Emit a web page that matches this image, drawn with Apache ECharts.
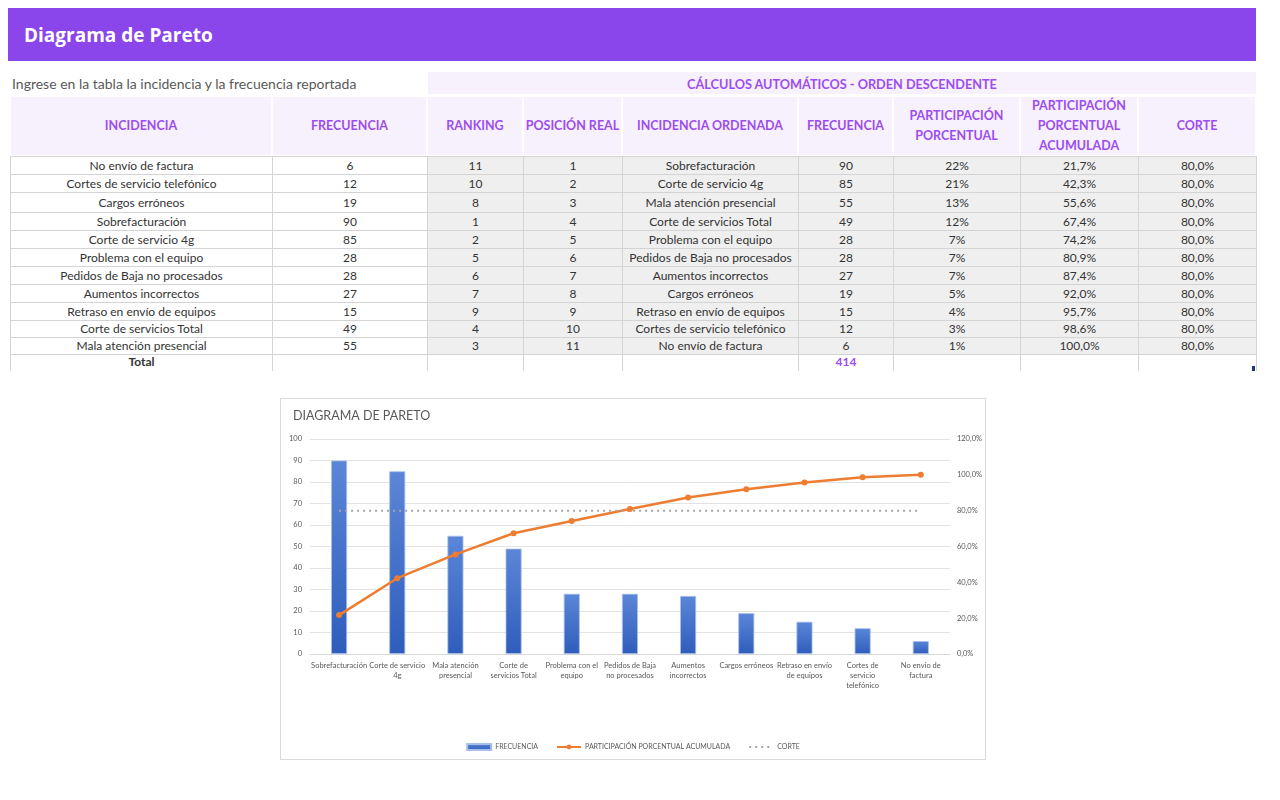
<!DOCTYPE html>
<html>
<head>
<meta charset="utf-8">
<script src="https://cdn.jsdelivr.net/npm/echarts@6/dist/echarts.min.js"></script>
<style>
  html,body{margin:0;padding:0;background:#fff;width:1280px;height:800px;overflow:hidden;font-family:Lato,"Open Sans",sans-serif;}
  #banner{position:absolute;left:8px;top:8px;width:1248px;height:53px;background:#8a46eb;}
  #banner span{position:absolute;left:16px;top:14px;color:#fff;font-weight:bold;font-size:19px;font-family:"Open Sans",Lato,sans-serif;}
  #sub{position:absolute;left:12px;top:75px;font-size:14px;color:#595959;}
  #band{position:absolute;left:428px;top:72px;width:828px;height:22px;background:#f7f0fd;color:#9b4df0;font-weight:bold;font-size:12.7px;text-align:center;line-height:24px;}
  .cell{position:absolute;box-sizing:border-box;text-align:center;font-size:12px;color:#333;white-space:nowrap;overflow:visible;}
  .hd{background:#f7f0fd;color:#9b4df0;font-weight:bold;font-size:12.5px;display:flex;align-items:center;justify-content:center;line-height:20px;}
  #chart{position:absolute;left:280px;top:398px;width:706px;height:362px;box-sizing:border-box;border:1px solid #d9d9d9;}
  #mark{position:absolute;left:1252px;top:366px;width:3px;height:5px;background:#1f3864;}
</style>
</head>
<body>
<div id="banner"><span>Diagrama de Pareto</span></div>
<div id="sub">Ingrese en la tabla la incidencia y la frecuencia reportada</div>
<div id="band">CÁLCULOS AUTOMÁTICOS - ORDEN DESCENDENTE</div>
<div id="tbl"></div>
<div id="mark"></div>
<div id="chart"></div>
<script>
// ---- data ----
const headers = ["INCIDENCIA","FRECUENCIA","RANKING","POSICIÓN REAL","INCIDENCIA ORDENADA","FRECUENCIA","PARTICIPACIÓN<br>PORCENTUAL","PARTICIPACIÓN<br>PORCENTUAL<br>ACUMULADA","CORTE"];
const incidencias = ["No envío de factura","Cortes de servicio telefónico","Cargos erróneos","Sobrefacturación","Corte de servicio 4g","Problema con el equipo","Pedidos de Baja no procesados","Aumentos incorrectos","Retraso en envío de equipos","Corte de servicios Total","Mala atención presencial"];
const frecuencias = [6,12,19,90,85,28,28,27,15,49,55];
const ranking = [11,10,8,1,2,5,6,7,9,4,3];
const posicion = [1,2,3,4,5,6,7,8,9,10,11];
const categorias = ["Sobrefacturación","Corte de servicio 4g","Mala atención presencial","Corte de servicios Total","Problema con el equipo","Pedidos de Baja no procesados","Aumentos incorrectos","Cargos erróneos","Retraso en envío de equipos","Cortes de servicio telefónico","No envío de factura"];
const frecOrdenada = [90,85,55,49,28,28,27,19,15,12,6];
const participacion = ["22%","21%","13%","12%","7%","7%","7%","5%","4%","3%","1%"];
const acumulada = [21.7,42.3,55.6,67.4,74.2,80.9,87.4,92.0,95.7,98.6,100.0];
const corte = [80,80,80,80,80,80,80,80,80,80,80];
const total = 414;
const tickLabels = ["Sobrefacturación","Corte de servicio\n4g","Mala atención\npresencial","Corte de\nservicios Total","Problema con el\nequipo","Pedidos de Baja\nno procesados","Aumentos\nincorrectos","Cargos erróneos","Retraso en envío\nde equipos","Cortes de\nservicio\ntelefónico","No envío de\nfactura"];

// ---- table layout ----
const colX = [10,272,427,523,622,798,893,1020,1138,1256];
const rowH = [18,18,19.5,18,18,18,18,18,18,17.5,16.5];
const tbl = document.getElementById('tbl');
function add(x,y,w,h,html,cls,style){
  const d=document.createElement('div');
  d.className='cell '+(cls||'');
  d.style.left=x+'px';d.style.top=y+'px';d.style.width=w+'px';d.style.height=h+'px';
  if(style) d.style.cssText+=style;
  d.innerHTML=html; tbl.appendChild(d);
}
for(let c=0;c<9;c++){
  add(colX[c]+1,97,colX[c+1]-colX[c]-2,58,headers[c],'hd');
}
const fmt = v => v.toFixed(1).replace('.',',')+'%';
let y=156;
for(let r=0;r<11;r++){
  const h=rowH[r];
  const vals=[incidencias[r],frecuencias[r],ranking[r],posicion[r],categorias[r],frecOrdenada[r],participacion[r],fmt(acumulada[r]),fmt(corte[r])];
  for(let c=0;c<9;c++){
    const bg = c<2 ? '#ffffff' : '#efefef';
    add(colX[c],y,colX[c+1]-colX[c]+1,h+1,vals[c],'',
      'background:'+bg+';border:1px solid #d4d4d4;line-height:'+(h+(r===2?1:-1))+'px;');
  }
  y+=h;
}
for(let c=0;c<9;c++){
  let txt='', st='border-left:1px solid #d4d4d4;border-right:1px solid #d4d4d4;line-height:16px;';
  if(c===0){txt='Total';st+='font-weight:bold;';}
  if(c===5){txt=String(total);st+='font-weight:bold;color:#9b4df0;';}
  add(colX[c],y,colX[c+1]-colX[c]+1,17,txt,'',st);
}

// ---- chart ----
const chart = echarts.init(document.getElementById('chart'));
const gray = '#595959';
chart.setOption({
  animation:false,
  title:{text:'DIAGRAMA DE PARETO',left:12,top:10,padding:0,textStyle:{fontSize:12.5,fontWeight:'normal',color:gray,fontFamily:'Lato'}},
  grid:{left:29,right:35,top:40,bottom:105},
  legend:{
    top:339,left:'center',itemGap:18,itemWidth:24,itemHeight:6,
    textStyle:{fontSize:7,color:gray,fontFamily:'Lato',padding:[0,0,0,-1]},
    data:[{name:'FRECUENCIA',icon:'rect'},{name:'PARTICIPACIÓN PORCENTUAL ACUMULADA'},{name:'CORTE',itemStyle:{opacity:0}}]
  },
  xAxis:{
    type:'category',data:categorias,
    axisLine:{lineStyle:{color:'#d9d9d9'}},axisTick:{show:false},
    axisLabel:{interval:0,fontSize:7.5,lineHeight:10,color:gray,margin:7,fontFamily:'Lato',
      formatter:(v,i)=>tickLabels[i]}
  },
  yAxis:[
    {type:'value',min:0,max:100,interval:10,
      axisLabel:{fontSize:7.5,color:gray,margin:8,fontFamily:'Lato'},
      axisLine:{show:false},axisTick:{show:false},
      splitLine:{lineStyle:{color:'#e3e3e3'}}},
    {type:'value',min:0,max:120,interval:20,
      axisLabel:{fontSize:7.5,color:gray,margin:7,fontFamily:'Lato',formatter:v=>v.toFixed(1).replace('.',',')+'%'},
      axisLine:{show:false},axisTick:{show:false},splitLine:{show:false}}
  ],
  series:[
    {name:'FRECUENCIA',type:'bar',data:frecOrdenada,barWidth:16,
      itemStyle:{color:new echarts.graphic.LinearGradient(0,0,0,1,[{offset:0,color:'#5b86d8'},{offset:1,color:'#2f5dbb'}]),
        borderColor:'#a9c0ea',borderWidth:0.8}},
    {name:'PARTICIPACIÓN PORCENTUAL ACUMULADA',type:'line',yAxisIndex:1,data:acumulada,
      symbol:'circle',symbolSize:6,
      lineStyle:{color:'#ed7d31',width:2.5},itemStyle:{color:'#ed7d31'}},
    {name:'CORTE',type:'line',yAxisIndex:1,data:corte,symbol:'none',
      lineStyle:{color:'#a6a6a6',width:2,type:[2,4]},itemStyle:{color:'#a6a6a6'}}
  ]
});
</script>
</body>
</html>
